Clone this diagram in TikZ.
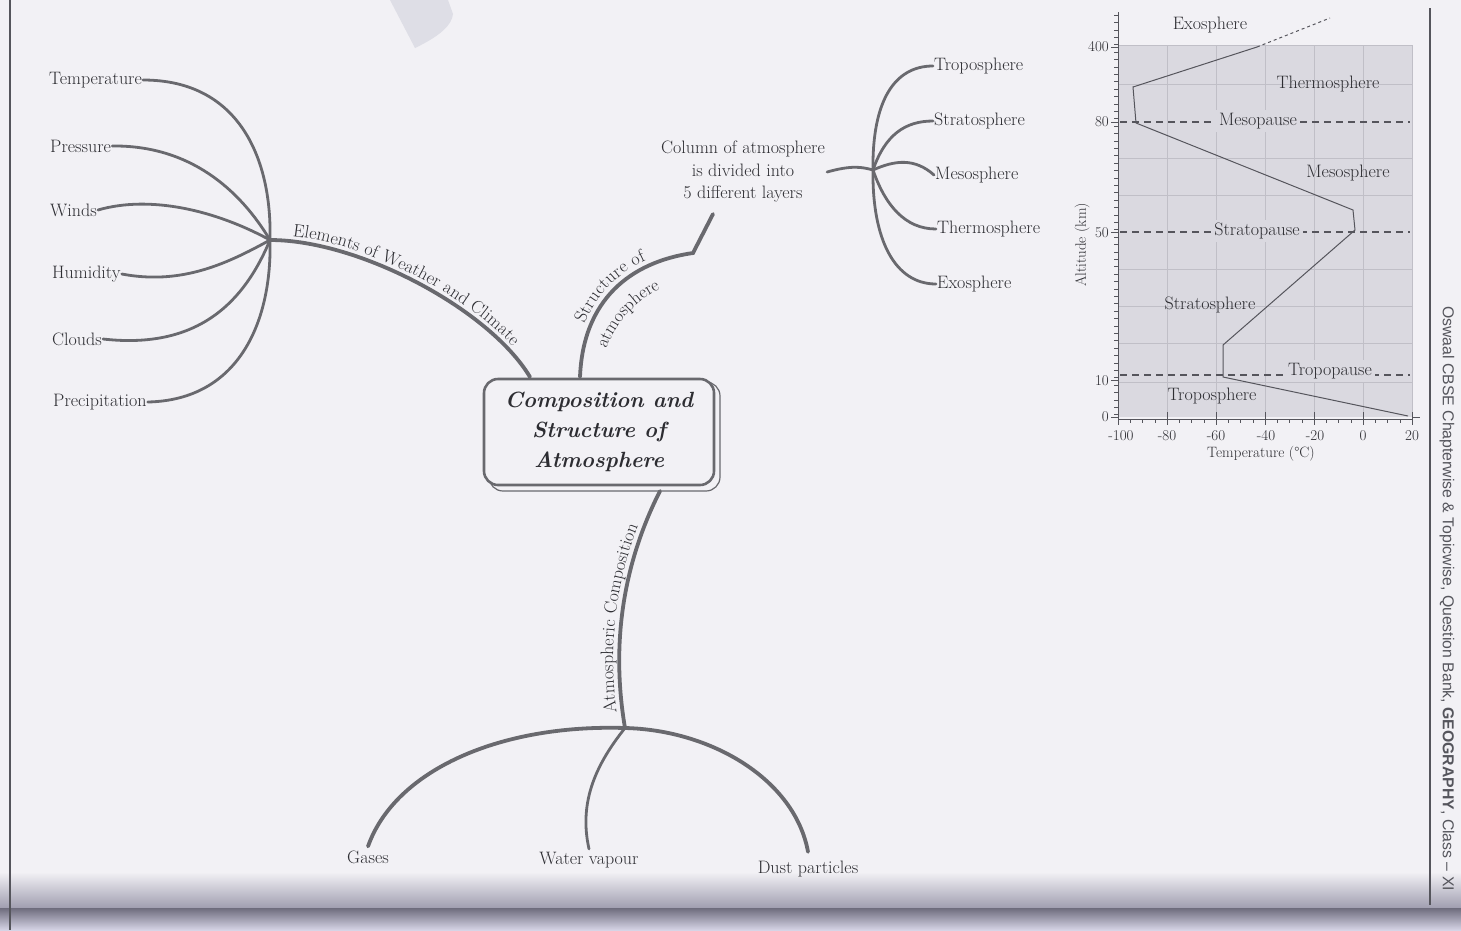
\documentclass[tikz,border=0pt]{standalone}
\usepackage{fontspec}
\newfontfamily\mysans{Liberation Sans}
\usetikzlibrary{decorations.text}
\definecolor{bgc}{RGB}{242,241,245}
\definecolor{smc}{RGB}{222,222,230}
\definecolor{lnc}{RGB}{105,105,110}
\definecolor{txc}{RGB}{45,45,50}
\definecolor{plotc}{RGB}{218,217,224}
\definecolor{gridc}{RGB}{192,191,199}
\definecolor{axc}{RGB}{85,85,92}
\definecolor{bandA}{RGB}{160,158,176}
\definecolor{bandB}{RGB}{110,108,125}
\definecolor{bandC}{RGB}{214,212,230}
\newcommand\lblf{\fontsize{18}{22.5}\selectfont}
\newcommand\smf{\fontsize{15}{17}\selectfont}
\newcommand\ttlf{\fontsize{22}{30}\selectfont\bfseries\itshape}
\begin{document}
\begin{tikzpicture}[x=1pt,y=-1pt,
  lbl/.style={font=\lblf, text=txc, inner sep=1pt},
  clbl/.style={font=\lblf, text=txc, inner sep=2pt},
  slbl/.style={font=\smf, text=txc, inner sep=1pt},
  plbl/.style={font=\lblf, text=txc, inner sep=3pt, fill=plotc},
  br/.style={draw=lnc, line width=2.8pt, line cap=round},
  mbr/.style={draw=lnc, line width=3.8pt, line cap=round},
  tk/.style={draw=axc, line width=0.8pt},
  dsh/.style={draw=axc, line width=1.6pt, dash pattern=on 7pt off 5pt},
  prof/.style={draw=axc, line width=1pt}
]
\useasboundingbox (0,0) rectangle (1461,930);
\clip (0,0) rectangle (1461,930);
\fill[bgc] (0,0) rectangle (1461,930);
% page artefacts
\fill[smc] (390,0) -- (448,0) -- (453,14) .. controls (452,25) and (440,36) .. (415,48) -- cycle;
\shade[top color=bgc, bottom color=bandA] (0,872) rectangle (1461,908);
\shade[top color=bandB, bottom color=bandC] (0,908) rectangle (1461,930);
\draw[axc, line width=2pt] (10,0) -- (10,930);
\draw[axc, line width=1.4pt] (1430,8) -- (1430,905);

% ---------- left branch ----------
\coordinate (hubL) at (270,240);
\node[lbl, anchor=west] (temp) at (48,80) {Temperature};
\node[lbl, anchor=west] (pres) at (49,146) {Pressure};
\node[lbl, anchor=west] (wind) at (49,210) {Winds};
\node[lbl, anchor=west] (hum) at (51,274) {Humidity};
\node[lbl, anchor=west] (cld) at (51,339) {Clouds};
\node[lbl, anchor=west] (prec) at (52,402) {Precipitation};
\draw[br] (temp.east) .. controls (240,80) and (272,160) .. (hubL);
\draw[br] (pres.east) .. controls (190,145) and (240,190) .. (hubL);
\draw[br] (wind.east) .. controls (150,195) and (215,210) .. (hubL);
\draw[br] (hum.east) .. controls (180,285) and (225,265) .. (hubL);
\draw[br] (cld.east) .. controls (200,350) and (245,300) .. (hubL);
\draw[br] (prec.east) .. controls (240,400) and (272,320) .. (hubL);

% ---------- centre ----------
\draw[lnc, line width=1.2pt, rounded corners=14pt] (489,382) rectangle (720,491);
\node[draw=lnc, line width=2.6pt, rounded corners=14pt, minimum width=230pt, minimum height=106pt, fill=bgc, text=txc, align=center, font=\ttlf] (box) at (599,432) {Composition and\\Structure of\\Atmosphere};

\coordinate (e1) at (530,377);
\draw[mbr] (hubL) .. controls (360,240) and (490,310) .. (e1);
\path[decorate, decoration={text along path, text={|\lblf\color{txc}|Elements of Weather and Climate}, text align={left indent=22pt}, raise=5pt}] (hubL) .. controls (360,240) and (490,310) .. (e1);

% structure branch
\coordinate (s0) at (580,377);
\coordinate (s1) at (693,253);
\coordinate (s2) at (713,214);
\draw[mbr] (s0) .. controls (583,300) and (630,262) .. (s1) -- (s2);
\path[decorate, decoration={text along path, text={|\lblf\color{txc}|Structure of}, text align={left indent=52pt}, raise=6pt}] (s0) .. controls (583,300) and (630,262) .. (s1);
\path[decorate, decoration={text along path, text={|\lblf\color{txc}|atmosphere}, text align={left indent=34pt}}] (600,382) .. controls (603,330) and (635,290) .. (700,274);

% column and layers
\node[clbl, align=center] (col) at (743,172) {Column of atmosphere\\is divided into\\5 different layers};
\coordinate (hubR) at (873,170);
\draw[br] (col.east) .. controls (852,165) and (862,167) .. (hubR);
\node[lbl, anchor=west] (tro) at (933,66) {Troposphere};
\node[lbl, anchor=west] (str) at (933,121) {Stratosphere};
\node[lbl, anchor=west] (mes) at (934,175) {Mesosphere};
\node[lbl, anchor=west] (the) at (936,229) {Thermosphere};
\node[lbl, anchor=west] (exo) at (936,284) {Exosphere};
\draw[br] (hubR) .. controls (872,100) and (895,66) .. (tro.west);
\draw[br] (hubR) .. controls (885,135) and (905,121) .. (str.west);
\draw[br] (hubR) .. controls (895,160) and (915,158) .. (mes.west);
\draw[br] (hubR) .. controls (885,205) and (905,229) .. (the.west);
\draw[br] (hubR) .. controls (872,240) and (895,284) .. (exo.west);

% bottom branch
\coordinate (a0) at (660,491);
\coordinate (jB) at (625,728);
\draw[mbr] (a0) .. controls (625,560) and (610,640) .. (jB);
\path[decorate, decoration={text along path, text={|\lblf\color{txc}|Atmospheric Composition}, text align={left indent=16pt}, raise=6pt}] (jB) .. controls (610,640) and (625,560) .. (a0);
\node[lbl] (gas) at (368,857) {Gases};
\node[lbl] (wat) at (589,860) {Water vapour};
\node[lbl] (dust) at (808,869) {Dust particles};
\draw[mbr] (jB) .. controls (500,724) and (395,770) .. ([yshift=3pt]gas.north);
\draw[br] (jB) .. controls (598,762) and (578,800) .. ([yshift=2pt]wat.north);
\draw[mbr] (jB) .. controls (712,730) and (795,780) .. ([yshift=8pt]dust.north);

% ---------- chart ----------
\fill[plotc] (1118,45) rectangle (1412,417);
\foreach \x in {1167,1216,1265,1314,1363,1412} \draw[gridc, line width=1pt] (\x,45) -- (\x,417);
\foreach \y in {45,84,158,195,269,306,343,382} \draw[gridc, line width=1pt] (1118,\y) -- (1412,\y);
\draw[axc, line width=1pt] (1118,12) -- (1118,419) -- (1412,419);
\foreach \y in {15,22.4,...,415} \draw[tk, line width=0.6pt] (1114,\y) -- (1118,\y);
\foreach \y in {47,122,232,380,417} \draw[tk] (1111,\y) -- (1118,\y);
\foreach \x in {1118,1167,1216,1265,1314,1363,1412} \draw[tk] (\x,412) -- (\x,425);
\foreach \x in {1130,1142,1155,1179,1191,1204,1228,1240,1253,1277,1289,1302,1326,1338,1351,1375,1387,1400} \draw[tk, line width=0.6pt] (\x,419) -- (\x,423);
\draw[tk] (1412,417) -- (1420,417);
\node[slbl, anchor=east] (y400) at (1110,47) {400};
\node[slbl, anchor=east] (y80) at (1110,122) {80};
\node[slbl, anchor=east] (y50) at (1110,233) {50};
\node[slbl, anchor=east] (y10) at (1110,381) {10};
\node[slbl, anchor=east] (y0) at (1110,417) {0};
\node[slbl] (xa) at (1121,436) {-100};
\node[slbl] (xb) at (1167,436) {-80};
\node[slbl] (xc) at (1216,436) {-60};
\node[slbl] (xd) at (1266,436) {-40};
\node[slbl] (xe) at (1315,436) {-20};
\node[slbl] (xf) at (1363,436) {0};
\node[slbl] (xg) at (1412,436) {20};
\node[slbl] (xt) at (1261,454) {Temperature (°C)};
\node[slbl, rotate=90] (yt) at (1082,245) {Altitude (km)};
% dashed boundaries
\draw[dsh] (1120,122) -- (1410,122);
\draw[dsh] (1120,232) -- (1410,232);
\draw[dsh] (1120,375) -- (1410,375);
% profile
\draw[prof, dashed] (1257,47) -- (1330,18);
\draw[prof] (1257,47) -- (1133,87) -- (1136,123) -- (1353,210) -- (1355,230) -- (1223,345) -- (1223,377) -- (1408,416);
% chart labels
\node[lbl] (cexo) at (1210,25) {Exosphere};
\node[lbl] (cthe) at (1328,84) {Thermosphere};
\node[plbl] (cmpa) at (1258,121) {Mesopause};
\node[lbl] (cmes) at (1348,173) {Mesosphere};
\node[plbl] (cspa) at (1257,231) {Stratopause};
\node[lbl] (cstr) at (1210,305) {Stratosphere};
\node[plbl] (ctpa) at (1330,371) {Tropopause};
\node[lbl] (ctro) at (1212,396) {Troposphere};

% margin text
\node[rotate=-90, anchor=west, font=\mysans\fontsize{15.8}{16}\selectfont, text=axc, inner sep=0pt] (mtext) at (1447,306) {Oswaal CBSE Chapterwise \& Topicwise, Question Bank, \textbf{GEOGRAPHY}, Class – XI};
\end{tikzpicture}
\end{document}
